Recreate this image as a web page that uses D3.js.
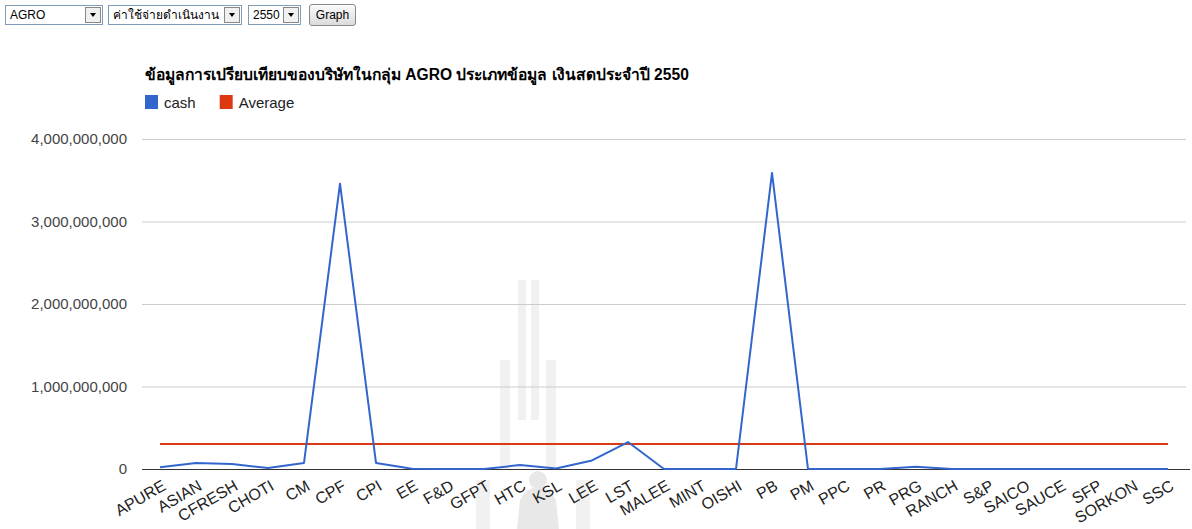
<!DOCTYPE html>
<html>
<head>
<meta charset="utf-8">
<script src="https://cdn.jsdelivr.net/npm/d3@7"></script>
<style>
  html, body { margin: 0; padding: 0; background: #fff; width: 1192px; height: 529px; overflow: hidden; }
  .ctl { position: absolute; top: 5px; height: 18px; border: 1px solid #7f9db9; background: #fff;
         font-family: Arial, "Liberation Sans", sans-serif; font-size: 12px; line-height: 18px; color: #000; box-sizing: content-box; }
  .ctl .lbl { position: absolute; left: 4px; top: 0; white-space: nowrap; }
  .ctl .arr { position: absolute; right: 1px; top: 1px; width: 14px; height: 14px; border: 1px solid #888; background: #f0f0f0; }
  .ctl .arr:after { content: ""; position: absolute; left: 4px; top: 5px; border-left: 3px solid transparent; border-right: 3px solid transparent; border-top: 4px solid #000; }
  .btn { position: absolute; left: 309px; top: 4px; width: 45px; height: 20px; border: 1px solid #888; border-radius: 3px;
         background: linear-gradient(#fafafa, #dcdcdc); font-family: Arial, "Liberation Sans", sans-serif; font-size: 12px; line-height: 20px; text-align: center; color: #000; }
  svg { position: absolute; left: 0; top: 0; }
</style>
</head>
<body>
<svg id="chart" width="1192" height="529"></svg>
<div class="ctl" style="left:5px;width:96px"><span class="lbl">AGRO</span><span class="arr"></span></div>
<div class="ctl" style="left:108px;width:132px"><span class="lbl" style="font-size:12px">ค่าใช้จ่ายดำเนินงาน</span><span class="arr"></span></div>
<div class="ctl" style="left:248px;width:51px"><span class="lbl">2550</span><span class="arr"></span></div>
<div class="btn">Graph</div>
<script>
const categories = ["APURE","ASIAN","CFRESH","CHOTI","CM","CPF","CPI","EE","F&D","GFPT","HTC","KSL","LEE","LST","MALEE","MINT","OISHI","PB","PM","PPC","PR","PRG","RANCH","S&P","SAICO","SAUCE","SFP","SORKON","SSC"];
const cashValues = [20000000, 73000000, 60000000, 12000000, 73000000, 3458000000, 73000000, 2000000, 0, 0, 48000000, 5000000, 104000000, 327000000, 0, 0, 0, 3588000000, 0, 0, 0, 28000000, 0, 0, 0, 0, 0, 0, 0];
const averageValue = 303000000;
const averageValues = categories.map(() => averageValue);
const yTicks = [0, 1000000000, 2000000000, 3000000000, 4000000000];
const titleText = "ข้อมูลการเปรียบเทียบของบริษัทในกลุ่ม AGRO ประเภทข้อมูล เงินสดประจำปี 2550";
const legendItems = [{label: "cash", color: "#3366cc"}, {label: "Average", color: "#dc3912"}];

const svg = d3.select("#chart");
const font = "Arial, 'Liberation Sans', sans-serif";
const plotLeft = 142, plotRight = 1186, plotTop = 139, plotBottom = 469;

const x = d3.scaleBand().domain(categories).range([plotLeft, plotRight]);
const y = d3.scaleLinear().domain([0, 4000000000]).range([plotBottom, plotTop]);
const cx = d => x(d) + x.bandwidth() / 2;

// Faint background watermark (decorative)
const wm = svg.append("g").attr("fill", "#f1f1f1");
wm.append("rect").attr("x", 518).attr("y", 280).attr("width", 8).attr("height", 140);
wm.append("rect").attr("x", 531).attr("y", 280).attr("width", 8).attr("height", 140);
wm.append("rect").attr("x", 500).attr("y", 360).attr("width", 10).attr("height", 110);
wm.append("rect").attr("x", 546).attr("y", 360).attr("width", 10).attr("height", 110);
wm.append("rect").attr("x", 476).attr("y", 480).attr("width", 14).attr("height", 49);
wm.append("rect").attr("x", 576).attr("y", 480).attr("width", 14).attr("height", 49);
wm.append("path").attr("fill", "#e8e8e8").attr("d", "M517,529 L520,500 Q526,488 538,487 Q550,488 556,500 L559,529 Z");
wm.append("circle").attr("fill", "#e8e8e8").attr("cx", 538).attr("cy", 480).attr("r", 9);

// Title
svg.append("text").attr("x", 145).attr("y", 80)
  .attr("font-family", font).attr("font-size", 15.6).attr("font-weight", "bold").attr("fill", "#000")
  .text(titleText);

// Legend
const lg = svg.append("g");
let lx = 145;
legendItems.forEach((it) => {
  lg.append("rect").attr("x", lx).attr("y", 95).attr("width", 13).attr("height", 14).attr("fill", it.color);
  const t = lg.append("text").attr("x", lx + 19).attr("y", 108)
    .attr("font-family", font).attr("font-size", 15).attr("fill", "#222").text(it.label);
  lx += 19 + t.node().getComputedTextLength() + 24;
});

// Grid lines
svg.append("g").selectAll("line").data(yTicks.filter(d => d !== 0)).join("line")
  .attr("x1", plotLeft).attr("x2", plotRight)
  .attr("y1", d => y(d) + 0.5).attr("y2", d => y(d) + 0.5)
  .attr("stroke", "#cccccc").attr("stroke-width", 1);

// Y axis labels
const fmt = d3.format(",");
svg.append("g").selectAll("text").data(yTicks).join("text")
  .attr("x", 127).attr("y", d => y(d) + 5)
  .attr("text-anchor", "end").attr("font-family", font).attr("font-size", 15).attr("fill", "#444")
  .text(d => fmt(d));

// Baseline
svg.append("line").attr("x1", plotLeft).attr("x2", 1190)
  .attr("y1", y(0) + 0.5).attr("y2", y(0) + 0.5)
  .attr("stroke", "#333").attr("stroke-width", 1);

// Lines
const line = d3.line().x((d, i) => cx(categories[i])).y(d => y(d));
svg.append("path").datum(averageValues).attr("d", line)
  .attr("fill", "none").attr("stroke", "#dc3912").attr("stroke-width", 2);
svg.append("path").datum(cashValues).attr("d", line)
  .attr("fill", "none").attr("stroke", "#3366cc").attr("stroke-width", 2).attr("stroke-linejoin", "round");

// X labels
svg.append("g").selectAll("text").data(categories).join("text")
  .attr("transform", d => `translate(${cx(d) + 7},${plotBottom + 20}) rotate(-30)`)
  .attr("text-anchor", "end").attr("font-family", font).attr("font-size", 16).attr("fill", "#222")
  .text(d => d);
</script>
</body>
</html>
